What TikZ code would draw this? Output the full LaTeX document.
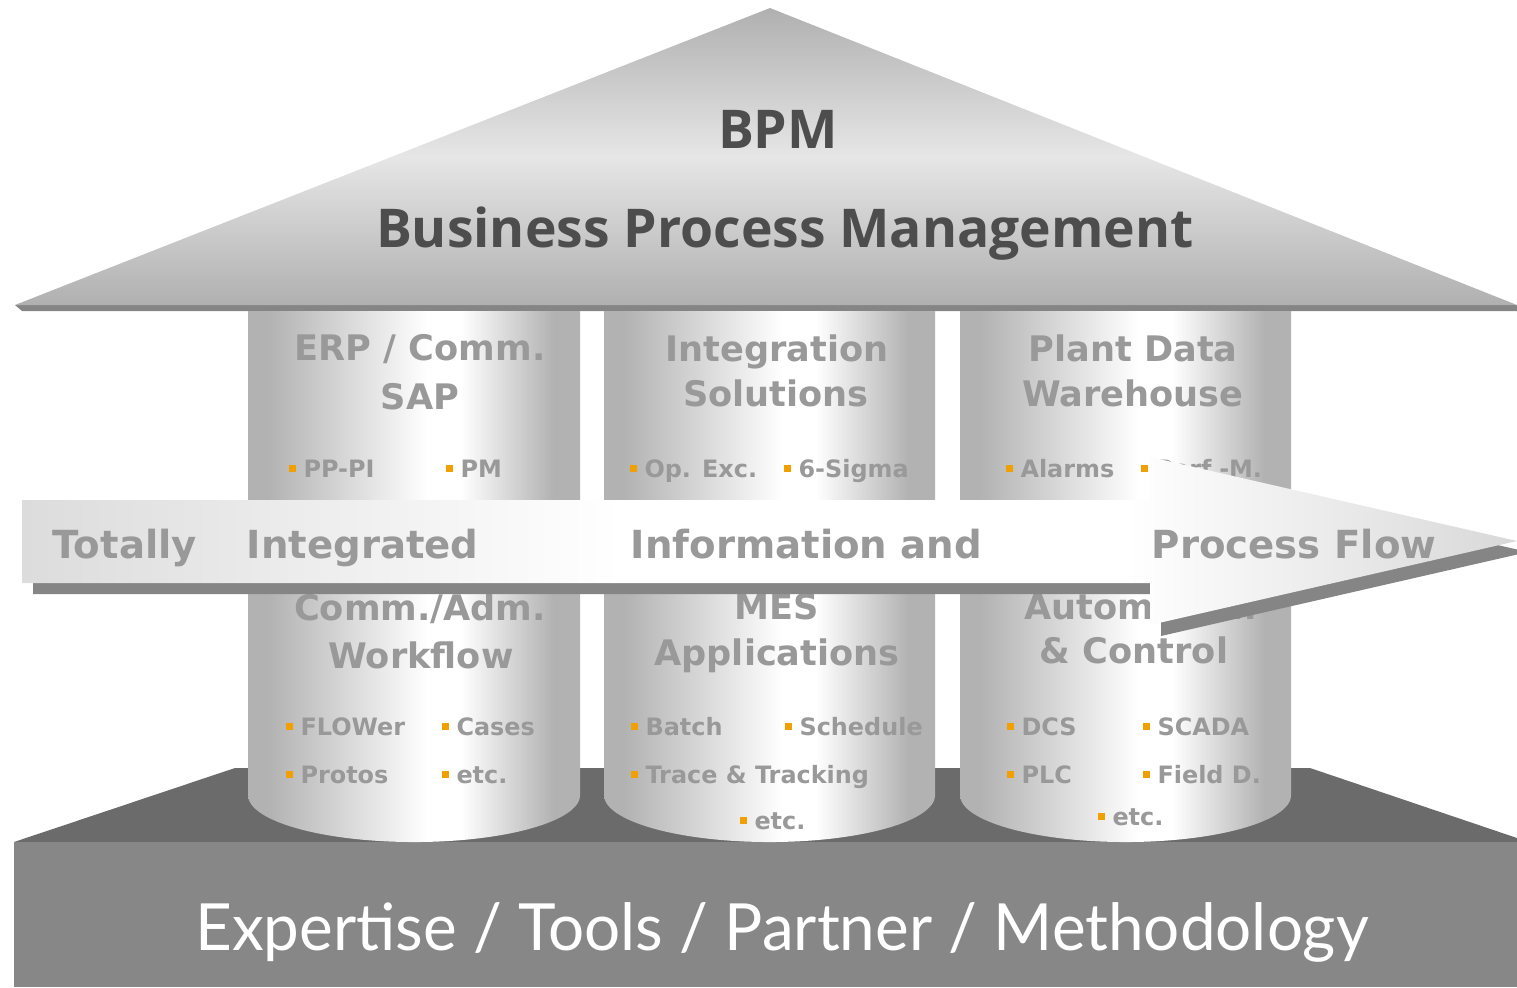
\documentclass[tikz,border=0pt]{standalone}
\usepackage{fontspec}
\setmainfont{DejaVu Sans}
\newfontfamily\titlefont{Open Sans}
\newfontfamily\basefont[FakeStretch=0.98]{Lato}
\usetikzlibrary{positioning}

\definecolor{roofgray}{HTML}{B0B0B0}
\definecolor{rooflight}{HTML}{E6E6E6}
\definecolor{shadowgray}{HTML}{858585}
\definecolor{pillargray}{HTML}{B2B2B2}
\definecolor{arrowgray}{HTML}{DCDCDC}
\definecolor{arrowtip}{HTML}{D8D8D8}
\definecolor{floortop}{HTML}{6B6B6B}
\definecolor{floorfront}{HTML}{878787}
\definecolor{textgray}{HTML}{999999}
\definecolor{titlegray}{HTML}{4D4D4D}
\definecolor{bulletorange}{HTML}{F0A000}

\pgfdeclarehorizontalshading{pillarshade}{100bp}{color(0bp)=(pillargray); color(25bp)=(pillargray);
  color(28bp)=(pillargray); color(52bp)=(white); color(57bp)=(white); color(71bp)=(pillargray);
  color(100bp)=(pillargray)}
\pgfdeclarehorizontalshading{arrowshade}{100bp}{color(0bp)=(arrowgray); color(25bp)=(arrowgray);
  color(45bp)=(white); color(62bp)=(white); color(75bp)=(arrowtip); color(100bp)=(arrowtip)}

\newcommand{\bul}{{\color{bulletorange}\rule[0.22em]{0.29em}{0.29em}}\hspace{0.33em}}

\begin{document}
\begin{tikzpicture}[
    x = 0.01cm,
    y = -0.01cm,
    title/.style={anchor=base, inner sep=0pt, text=titlegray, font=\titlefont\bfseries\fontsize{15.2}{17}\selectfont},
    heading/.style={anchor=base, inner sep=0pt, text=textgray, font=\bfseries\fontsize{10}{12}\selectfont},
    item/.style={anchor=base west, inner sep=0pt, text=textgray, font=\bfseries\fontsize{6.8}{8}\selectfont},
    flowtext/.style={anchor=base west, inner sep=0pt, text=textgray, font=\bfseries\fontsize{11}{13}\selectfont},
    pillar/.style={shading=pillarshade}
]
    \useasboundingbox (0,0) rectangle (1517,987);

    % roof
    \fill[shadowgray] (15,305) -- (1517,305) -- (1517,311) -- (22,311) -- cycle;
    \shade[top color=roofgray, bottom color=roofgray, middle color=rooflight]
        (15,305) -- (770,8) -- (1517,305) -- cycle;
    \node[title] (bpm) at (778,148) {BPM};
    \node[title] (bpmlong) at (785,247) {Business Process Management};

    % base
    \fill[floortop] (14,842) -- (235,768) -- (1310,768) -- (1517,838) -- (1517,842) -- cycle;
    \fill[floorfront] (14,842) rectangle (1517,987);
    \node[anchor=base, inner sep=0pt, text=white, font=\basefont\fontsize{18.5}{20}\selectfont]
        (base) at (782,950) {Expertise / Tools / Partner / Methodology};

    % pillars
    \shade[pillar] (248,311) -- (248,795) arc[start angle=180, end angle=360, x radius=1.66cm, y radius=0.47cm] -- (580,311) -- cycle;
    \shade[pillar] (604,311) -- (604,795) arc[start angle=180, end angle=360, x radius=1.655cm, y radius=0.47cm] -- (935,311) -- cycle;
    \shade[pillar] (960,311) -- (960,795) arc[start angle=180, end angle=360, x radius=1.655cm, y radius=0.47cm] -- (1291,311) -- cycle;

    % left pillar
    \node[heading] (erp) at (420,360) {ERP / Comm.};
    \node[heading] (sap) at (420,409) {SAP};
    \node[item] (pppi) at (288,477) {\bul PP-PI};
    \node[item] (pm) at (445,477) {\bul PM};
    \node[heading] (comm) at (420,620) {Comm./Adm.};
    \node[heading] (workflow) at (421,668) {Workflow};
    \node[item] (flower) at (285,735) {\bul FLOWer};
    \node[item] (cases) at (441,735) {\bul Cases};
    \node[item] (protos) at (285,783) {\bul Protos};
    \node[item] (etcl) at (441,783) {\bul etc.};

    % middle pillar
    \node[heading] (integ) at (777,361) {Integration};
    \node[heading] (solut) at (776,406) {Solutions};
    \node[item] (opexc) at (629,477) {\bul Op. Exc.};
    \node[item] (sigma) at (783,477) {\bul 6-Sigma};
    \node[heading] (mes) at (777,619) {MES};
    \node[heading] (appl) at (777,665) {Applications};
    \node[item] (batch) at (630,735) {\bul Batch};
    \node[item] (sched) at (784,735) {\bul Schedule};
    \node[item] (trace) at (630,783) {\bul Trace \& Tracking};
    \node[item] (etcm) at (739,829) {\bul etc.};

    % right pillar
    \node[heading] (plant) at (1133,361) {Plant Data};
    \node[heading] (wareh) at (1133,406) {Warehouse};
    \node[item] (alarms) at (1005,477) {\bul Alarms};
    \node[item] (perf) at (1140,477) {\bul Perf.-M.};
    \node[heading, anchor=base west] (autom) at (1024,619) {Automation};
    \node[heading] (control) at (1134,663) {\& Control};
    \node[item] (dcs) at (1006,735) {\bul DCS};
    \node[item] (scada) at (1142,735) {\bul SCADA};
    \node[item] (plc) at (1006,783) {\bul PLC};
    \node[item] (field) at (1142,783) {\bul Field D.};
    \node[item] (etcr) at (1097,825) {\bul etc.};

    % process arrow
    \fill[shadowgray] (33,511) -- (1161,511) -- (1161,468) -- (1528,552) -- (1161,636)
        -- (1161,594) -- (33,594) -- cycle;
    \shade[shading=arrowshade] (22,500) -- (1150,500) -- (1150,457) -- (1517,541) -- (1150,625)
        -- (1150,583) -- (22,583) -- cycle;
    \node[flowtext] (totally) at (52,558) {Totally};
    \node[flowtext] (integrated) at (246,558) {Integrated};
    \node[flowtext] (information) at (630,558) {Information and};
    \node[flowtext] (process) at (1151,558) {Process Flow};
\end{tikzpicture}
\end{document}
